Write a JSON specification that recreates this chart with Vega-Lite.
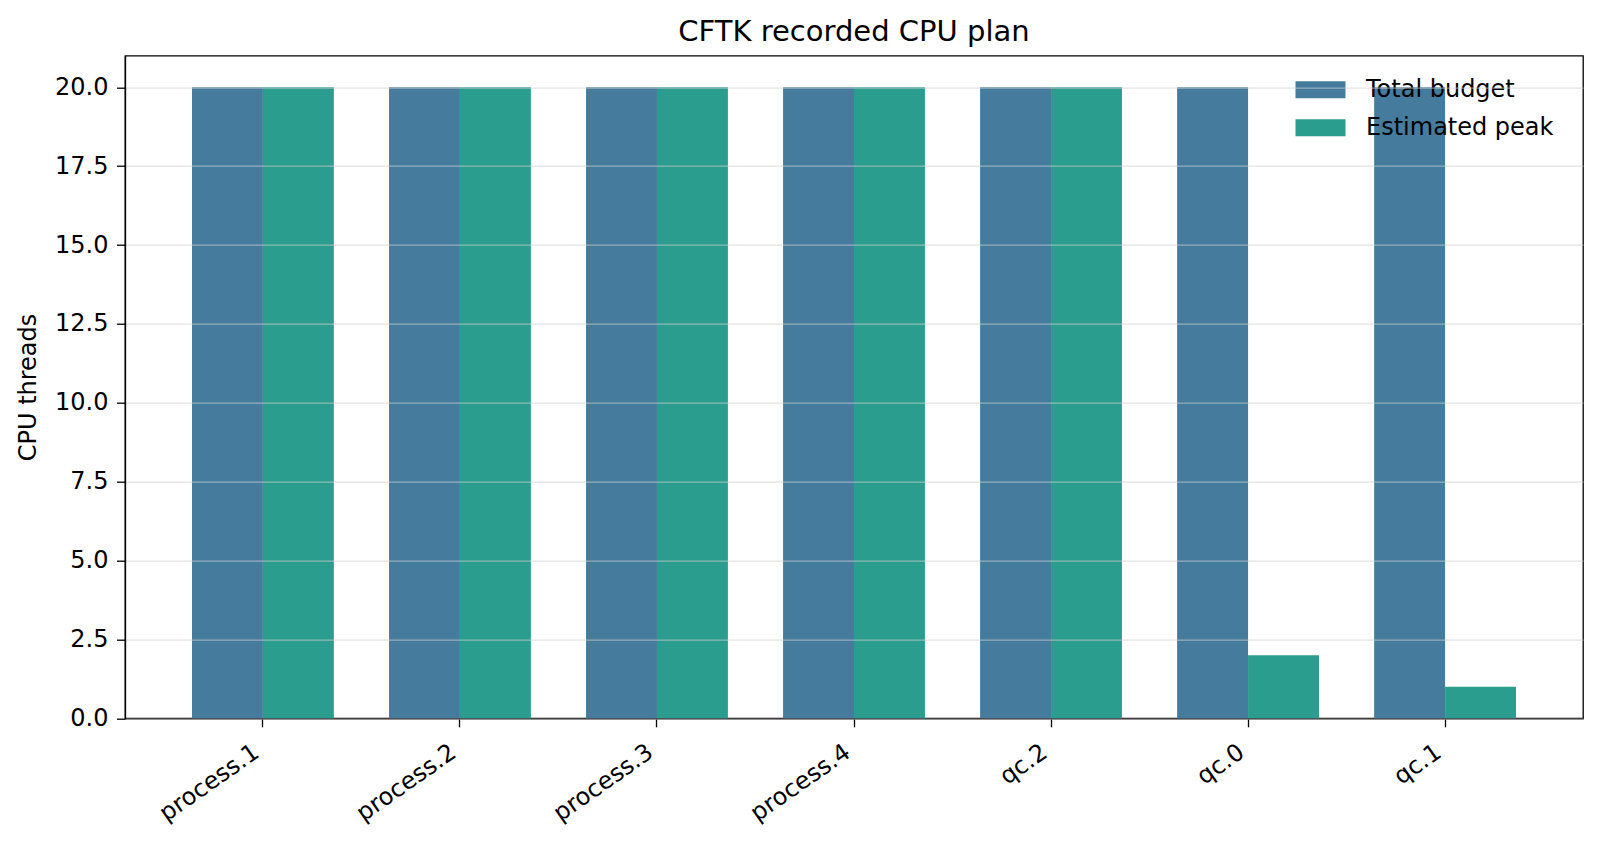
{
  "$schema": "https://vega.github.io/schema/vega-lite/v6.json",
  "autosize": {"type": "none"},
  "padding": {"left": 125, "top": 55.7, "right": 18, "bottom": 124.7},
  "width": 1458,
  "height": 662.6,
  "background": "white",
  "title": {
    "text": "CFTK recorded CPU plan",
    "font": "DejaVu Sans",
    "fontSize": 29,
    "fontWeight": "normal",
    "color": "black",
    "baseline": "bottom",
    "frame": "group",
    "offset": 8,
    "dy": 28
  },
  "config": {
    "font": "DejaVu Sans",
    "view": {"stroke": "black", "strokeWidth": 1.3},
    "axis": {
      "domainColor": "black",
      "domainWidth": 1.3,
      "tickColor": "black",
      "tickWidth": 1.3,
      "tickSize": 8.5,
      "labelPadding": 8.5,
      "labelFont": "DejaVu Sans",
      "labelFontSize": 24,
      "labelColor": "black",
      "titleFont": "DejaVu Sans",
      "titleFontSize": 24,
      "titleFontWeight": "normal",
      "titleColor": "black"
    }
  },
  "data": {
    "values": [
      {"task": "process.1", "series": "Total budget", "threads": 20},
      {"task": "process.1", "series": "Estimated peak", "threads": 20},
      {"task": "process.2", "series": "Total budget", "threads": 20},
      {"task": "process.2", "series": "Estimated peak", "threads": 20},
      {"task": "process.3", "series": "Total budget", "threads": 20},
      {"task": "process.3", "series": "Estimated peak", "threads": 20},
      {"task": "process.4", "series": "Total budget", "threads": 20},
      {"task": "process.4", "series": "Estimated peak", "threads": 20},
      {"task": "qc.2", "series": "Total budget", "threads": 20},
      {"task": "qc.2", "series": "Estimated peak", "threads": 20},
      {"task": "qc.0", "series": "Total budget", "threads": 20},
      {"task": "qc.0", "series": "Estimated peak", "threads": 2},
      {"task": "qc.1", "series": "Total budget", "threads": 20},
      {"task": "qc.1", "series": "Estimated peak", "threads": 1}
    ]
  },
  "mark": {"type": "bar"},
  "encoding": {
    "x": {
      "field": "task",
      "type": "nominal",
      "scale": {
        "domain": ["process.1", "process.2", "process.3", "process.4", "qc.2", "qc.0", "qc.1"],
        "paddingInner": 0.28,
        "paddingOuter": 0.34
      },
      "axis": {
        "title": null,
        "labelAngle": -35,
        "labelAlign": "right",
        "labelBaseline": "top",
        "labelOffset": -13,
        "labelPadding": 13,
        "grid": false
      }
    },
    "xOffset": {
      "field": "series",
      "type": "nominal",
      "scale": {"domain": ["Total budget", "Estimated peak"], "paddingInner": 0, "paddingOuter": 0}
    },
    "y": {
      "field": "threads",
      "type": "quantitative",
      "scale": {"domain": [0, 21], "nice": false},
      "axis": {
        "title": "CPU threads",
        "titlePadding": 14,
        "values": [0, 2.5, 5, 7.5, 10, 12.5, 15, 17.5, 20],
        "format": ".1f",
        "grid": true,
        "gridColor": "#cfcfcf",
        "gridOpacity": 0.6,
        "gridWidth": 1.2,
        "zindex": 1
      }
    },
    "color": {
      "field": "series",
      "type": "nominal",
      "scale": {"domain": ["Total budget", "Estimated peak"], "range": ["#457b9d", "#2a9d8f"]},
      "legend": {
        "title": null,
        "orient": "none",
        "legendX": 1167,
        "legendY": 22,
        "symbolType": "M-1,-1H4.88V1H-1Z",
        "symbolSize": 289,
        "symbolStrokeWidth": 0,
        "symbolOpacity": 1,
        "labelFont": "DejaVu Sans",
        "labelFontSize": 24,
        "labelColor": "black",
        "labelLimit": 0,
        "labelOffset": 50,
        "rowPadding": 14
      }
    }
  }
}
